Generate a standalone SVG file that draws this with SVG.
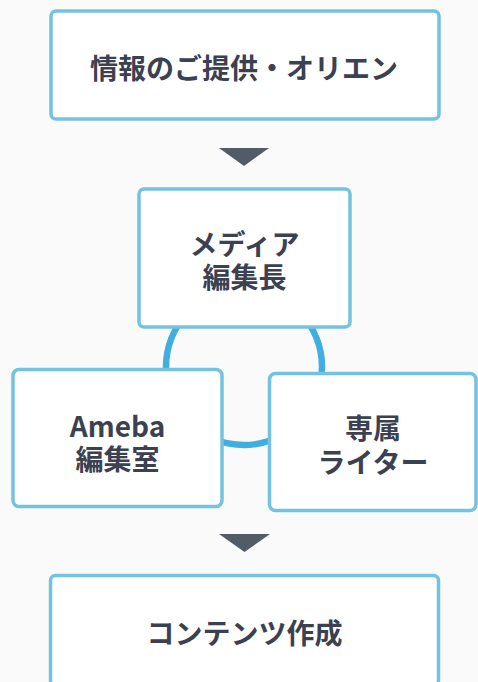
<svg xmlns="http://www.w3.org/2000/svg" width="478" height="682" viewBox="0 0 478 682">
<style>
.box{fill:#ffffff;stroke:#74c2e1;stroke-width:3.5}
.t{font-family:"Noto Sans CJK JP","Noto Sans",sans-serif;font-weight:bold;font-size:28px;fill:#3b4150;text-anchor:middle}
.arr{fill:#525c69}
.ring{fill:none;stroke:#41aee0;stroke-width:6.5}
</style>
<rect width="478" height="682" fill="#fafafa"/>
<g id="connectors">
<circle class="ring" cx="244" cy="367" r="78"/>
<polygon class="arr" points="219,148 269,148 244,166"/>
<polygon class="arr" points="219,534 270,534 244.5,552"/>
</g>
<g id="node-info">
<rect class="box" x="51" y="11" width="388" height="108" rx="5"/>
<text class="t" x="244" y="79">情報のご提供・オリエン</text>
</g>
<g id="node-editor">
<rect class="box" x="139" y="189" width="211" height="138" rx="5"/>
<text class="t" x="244.5" y="255">メディア</text>
<text class="t" x="244.5" y="288">編集長</text>
</g>
<g id="node-ameba">
<rect class="box" x="13" y="369.5" width="209" height="137" rx="6"/>
<text class="t" x="117.5" y="437">Ameba</text>
<text class="t" x="117.5" y="470">編集室</text>
</g>
<g id="node-writer">
<rect class="box" x="269.5" y="373.5" width="206.5" height="137" rx="6"/>
<text class="t" x="373" y="439">専属</text>
<text class="t" x="373" y="473">ライター</text>
</g>
<g id="node-content">
<rect class="box" x="50.5" y="575.5" width="388" height="110" rx="5"/>
<text class="t" x="244.5" y="644">コンテンツ作成</text>
</g>
</svg>
